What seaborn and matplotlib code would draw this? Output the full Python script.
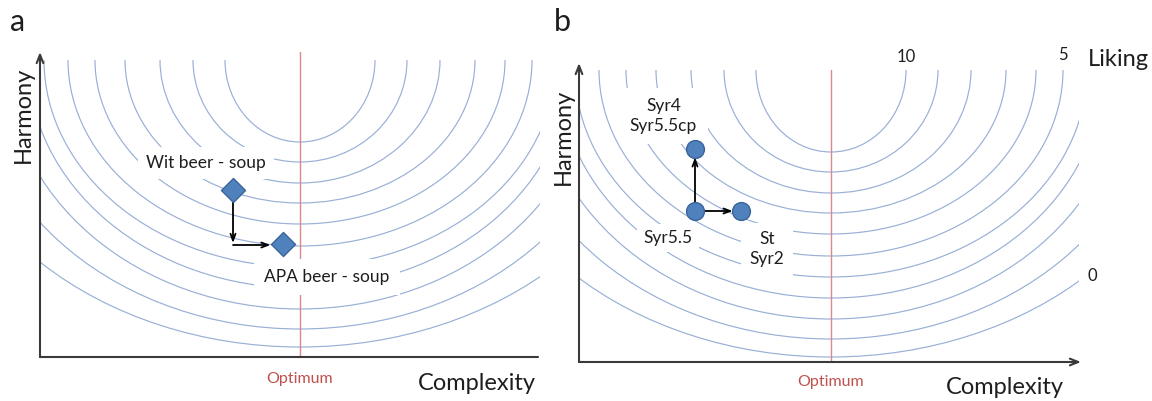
"""
Liking as a function of complexity and harmony (schematic, two panels)
"""
import matplotlib
matplotlib.use('Agg')
import matplotlib.pyplot as plt
from matplotlib.patches import Arc
import seaborn as sns

# 等高线: Liking 10 (inner) -> 0 (outer)
liking_levels = [10, 9, 8, 7, 6, 5, 4, 3, 2, 1, 0]
arc_half_width = [1.50, 2.14, 2.80, 3.50, 4.10, 4.64, 5.12, 5.44, 5.88, 6.52, 7.32]
arc_depth = [1.64, 2.04, 2.46, 2.86, 3.28, 3.72, 4.14, 4.56, 4.98, 5.38, 5.74]

# panel a
optimum_a = 5.2
arc_top_a = 5.94
beer_labels = ['Wit beer - soup', 'APA beer - soup']
beer_complexity = [3.86, 4.86]
beer_harmony = [3.34, 2.26]

# panel b
optimum_b = 5.04
arc_top_b = 5.84
syr_labels = ['Syr4\nSyr5.5cp', 'Syr5.5', 'St\nSyr2']
syr_complexity = [2.32, 2.32, 3.24]
syr_harmony = [4.26, 3.02, 3.02]

ARC_COLOR = '#98afd6'
RED = '#c0504d'
MARK = '#4f81bd'
MARK_EDGE = '#3a649a'
AXIS = '#3a3a3a'
TEXT = '#1e1e1e'

sns.set_theme(style='white')
plt.rcParams['font.family'] = ['Lato', 'DejaVu Sans']

fig = plt.figure(figsize=(11.52, 4.01), dpi=100)
ax_a = fig.add_axes([40 / 1152, 44 / 401, 500 / 1152, 305 / 401])
ax_b = fig.add_axes([579 / 1152, 39 / 401, 500 / 1152, 305 / 401])

box = dict(boxstyle='square,pad=0.35', fc='white', ec='none')


def draw_arcs(ax, optimum, top):
    for w, d in zip(arc_half_width, arc_depth):
        ax.add_patch(Arc((optimum, top), 2 * w, 2 * d, theta1=180, theta2=360,
                         color=ARC_COLOR, lw=0.85, zorder=1))


def draw_axes(ax, y_top, x_end, x_arrow):
    ax.annotate('', xy=(0, y_top), xytext=(0, 0), annotation_clip=False,
                arrowprops=dict(arrowstyle='->,head_length=0.5,head_width=0.2',
                                color=AXIS, lw=1.5, shrinkA=0, shrinkB=0))
    style = '->,head_length=0.5,head_width=0.2' if x_arrow else '-'
    ax.annotate('', xy=(x_end, 0), xytext=(0, 0), annotation_clip=False,
                arrowprops=dict(arrowstyle=style, color=AXIS, lw=1.5,
                                shrinkA=0, shrinkB=0))


def step_arrow(ax, start, end, shrink_a, shrink_b):
    ax.annotate('', xy=end, xytext=start,
                arrowprops=dict(arrowstyle='->,head_length=0.4,head_width=0.15',
                                color='black', lw=1.3,
                                shrinkA=shrink_a, shrinkB=shrink_b), zorder=4)


for ax in (ax_a, ax_b):
    ax.set_xlim(0, 10)
    ax.set_ylim(0, 6.1)
    ax.set_axis_off()

# ---- panel a ----
draw_arcs(ax_a, optimum_a, arc_top_a)
ax_a.axvline(optimum_a, ymin=0, ymax=1.0, color='#d9898a', lw=1, zorder=2)
draw_axes(ax_a, 6.1, 9.96, False)

step_arrow(ax_a, (beer_complexity[0], beer_harmony[0]),
           (beer_complexity[0], beer_harmony[1] + 0.02), 9, 0)
step_arrow(ax_a, (beer_complexity[0], beer_harmony[1] - 0.02),
           (beer_complexity[1], beer_harmony[1] - 0.02), 0, 9)
sns.scatterplot(x=beer_complexity, y=beer_harmony, marker='D', s=150,
                color=MARK, edgecolor=MARK_EDGE, linewidth=1, zorder=5,
                legend=False, ax=ax_a)

ax_a.text(3.32, 3.88, beer_labels[0], ha='center', va='center', fontsize=12.5,
          color=TEXT, bbox=dict(boxstyle='square,pad=0.45', fc='white', ec='none'),
          zorder=3)
ax_a.text(5.74, 1.60, beer_labels[1], ha='center', va='center', fontsize=12.5,
          color=TEXT, bbox=dict(boxstyle='square,pad=0.6', fc='white', ec='none'),
          zorder=3)
ax_a.text(optimum_a, -0.44, 'Optimum', ha='center', va='center', fontsize=11.5,
          color=RED)
ax_a.text(8.74, -0.54, 'Complexity', ha='center', va='center', fontsize=17,
          color=TEXT)
ax_a.text(-0.34, 4.84, 'Harmony', ha='center', va='center', rotation=90,
          fontsize=17, color=TEXT)

# ---- panel b ----
draw_arcs(ax_b, optimum_b, arc_top_b)
ax_b.axvline(optimum_b, ymin=0, ymax=arc_top_b / 6.1, color='#d9898a', lw=1, zorder=2)
draw_axes(ax_b, 5.98, 10.04, True)

step_arrow(ax_b, (syr_complexity[1], syr_harmony[1]),
           (syr_complexity[0], syr_harmony[0]), 6, 6)
step_arrow(ax_b, (syr_complexity[1], syr_harmony[1]),
           (syr_complexity[2], syr_harmony[2]), 6, 6)
sns.scatterplot(x=syr_complexity, y=syr_harmony, marker='o', s=165,
                color=MARK, edgecolor=MARK_EDGE, linewidth=1, zorder=5,
                legend=False, ax=ax_b)

ax_b.text(1.69, 4.92, syr_labels[0], ha='center', va='center', fontsize=12.5,
          color=TEXT, linespacing=1.25,
          bbox=dict(boxstyle='square,pad=0.6', fc='white', ec='none'), zorder=3)
ax_b.text(1.78, 2.48, syr_labels[1], ha='center', va='center', fontsize=12.5,
          color=TEXT, bbox=box, zorder=3)
ax_b.text(3.76, 2.26, syr_labels[2], ha='center', va='center', fontsize=12.5,
          color=TEXT, linespacing=1.25,
          bbox=dict(boxstyle='square,pad=0.5', fc='white', ec='none'), zorder=3)
ax_b.text(optimum_b, -0.40, 'Optimum', ha='center', va='center', fontsize=11.5,
          color=RED)
ax_b.text(8.52, -0.52, 'Complexity', ha='center', va='center', fontsize=17,
          color=TEXT)
ax_b.text(-0.32, 4.50, 'Harmony', ha='center', va='center', rotation=90,
          fontsize=17, color=TEXT)

# Liking 等级标注
ax_b.text(optimum_b + arc_half_width[0], 6.10, str(liking_levels[0]), ha='center',
          va='center', fontsize=12, color=TEXT)
ax_b.text(optimum_b + arc_half_width[5], 6.14, str(liking_levels[5]), ha='center',
          va='center', fontsize=12, color=TEXT)
ax_b.text(10.26, 1.72, str(liking_levels[10]), ha='center', va='center',
          fontsize=12, color=TEXT)
ax_b.text(10.78, 6.04, 'Liking', ha='center', va='center', fontsize=17,
          color=TEXT)

fig.text(18 / 1152, 1 - 22 / 401, 'a', ha='center', va='center', fontsize=22,
         color=TEXT)
fig.text(562 / 1152, 1 - 22 / 401, 'b', ha='center', va='center', fontsize=22,
         color=TEXT)

fig.savefig('out.png', dpi=100)
